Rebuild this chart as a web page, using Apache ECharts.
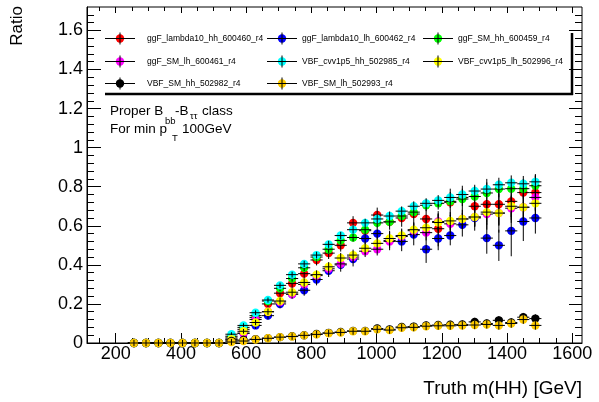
<!DOCTYPE html>
<html>
<head>
<meta charset="utf-8">
<script src="https://cdn.jsdelivr.net/npm/echarts@6/dist/echarts.min.js"></script>
<style>
html,body{margin:0;padding:0;background:#fff;}
#c{width:599px;height:402px;}
</style>
</head>
<body>
<div id="c"></div>
<script>
// ---------- data ----------
const xCenters = [256, 293, 331, 368, 405, 443, 480, 517, 555, 592, 629, 667, 704, 741, 778, 816, 853, 890, 928, 965, 1002, 1040, 1077, 1114, 1152, 1189, 1226, 1263, 1301, 1338, 1375, 1413, 1450, 1487];
const binHalfWidth = 18.6;

const seriesNames = ['ggF_lambda10_hh_600460_r4', 'ggF_lambda10_lh_600462_r4', 'ggF_SM_hh_600459_r4',
  'ggF_SM_lh_600461_r4', 'VBF_cvv1p5_hh_502985_r4', 'VBF_cvv1p5_lh_502996_r4',
  'VBF_SM_hh_502982_r4', 'VBF_SM_lh_502993_r4'];

const ggF_lambda10_hh = [0,0,0,0,0,0,0,0, 0.03,0.07,0.13,0.20,0.255,0.305,0.355,0.425,0.46,0.50,0.615,0.575,0.655,0.62,0.64,0.66,0.635,0.585,0.72,0.745,0.70,0.71,0.71,0.725,0.77,0.77];
const ggF_lambda10_lh = [0,0,0,0,0,0,0,0, 0.02,0.05,0.09,0.14,0.20,0.25,0.27,0.325,0.37,0.40,0.43,0.535,0.56,0.525,0.52,0.555,0.48,0.535,0.55,0.605,0.64,0.537,0.50,0.574,0.622,0.64];
const ggF_SM_hh = [0,0,0,0,0,0,0,0, 0.035,0.08,0.14,0.215,0.28,0.33,0.385,0.44,0.48,0.525,0.54,0.58,0.615,0.62,0.65,0.67,0.705,0.715,0.725,0.737,0.75,0.768,0.788,0.79,0.79,0.805];
const ggF_SM_lh = [0,0,0,0,0,0,0,0, 0.015,0.05,0.12,0.16,0.21,0.25,0.30,0.345,0.38,0.405,0.44,0.47,0.48,0.52,0.545,0.575,0.565,0.622,0.61,0.635,0.645,0.66,0.665,0.69,0.695,0.745];
const VBF_cvv1p5_hh = [0,0,0,0,0,0,0,0, 0.045,0.09,0.155,0.22,0.295,0.35,0.405,0.45,0.505,0.55,0.58,0.615,0.635,0.65,0.675,0.70,0.715,0.73,0.745,0.76,0.778,0.788,0.81,0.82,0.815,0.825];
const VBF_cvv1p5_lh = [0,0,0,0,0,0,0,0, 0.02,0.06,0.105,0.16,0.215,0.26,0.31,0.35,0.39,0.435,0.45,0.485,0.51,0.535,0.55,0.58,0.59,0.617,0.625,0.635,0.645,0.67,0.665,0.70,0.695,0.715];
const VBF_SM_hh = [0,0,0,0,0,0,0,0, 0.01,0.015,0.02,0.025,0.03,0.035,0.04,0.046,0.052,0.056,0.062,0.062,0.074,0.07,0.082,0.084,0.09,0.092,0.094,0.095,0.108,0.10,0.116,0.105,0.132,0.125];
const VBF_SM_lh = [0,0,0,0,0,0,0,0, 0.005,0.01,0.018,0.024,0.03,0.033,0.039,0.044,0.05,0.054,0.06,0.06,0.07,0.066,0.078,0.08,0.086,0.088,0.088,0.09,0.092,0.095,0.09,0.10,0.12,0.09];

const err_ggF_lambda10_hh = [0.016,0.016,0.016,0.016,0.016,0.016,0.016,0.016, 0.012,0.015,0.018,0.02,0.022,0.024,0.026,0.028,0.03,0.032,0.034,0.036,0.038,0.04,0.045,0.05,0.055,0.09,0.07,0.06,0.1,0.13,0.11,0.11,0.065,0.09];
const err_ggF_lambda10_lh = [0.016,0.016,0.016,0.016,0.016,0.016,0.016,0.016, 0.012,0.015,0.018,0.02,0.022,0.025,0.028,0.03,0.032,0.035,0.038,0.04,0.045,0.05,0.05,0.055,0.07,0.06,0.05,0.06,0.065,0.08,0.08,0.13,0.1,0.08];
const err_ggF_SM_hh = [0.016,0.016,0.016,0.016,0.016,0.016,0.016,0.016, 0.01,0.012,0.013,0.014,0.015,0.016,0.017,0.018,0.019,0.02,0.021,0.022,0.023,0.025,0.026,0.028,0.03,0.032,0.034,0.036,0.038,0.04,0.042,0.045,0.05,0.05];
const err_ggF_SM_lh = [0.016,0.016,0.016,0.016,0.016,0.016,0.016,0.016, 0.01,0.012,0.014,0.016,0.018,0.02,0.02,0.022,0.024,0.026,0.028,0.03,0.032,0.034,0.036,0.038,0.04,0.042,0.045,0.05,0.05,0.055,0.06,0.06,0.065,0.07];
const err_VBF_cvv1p5_hh = [0.016,0.016,0.016,0.016,0.016,0.016,0.016,0.016, 0.01,0.011,0.012,0.013,0.014,0.015,0.016,0.017,0.018,0.019,0.02,0.021,0.022,0.023,0.024,0.025,0.026,0.027,0.028,0.03,0.032,0.034,0.036,0.038,0.04,0.04];
const err_VBF_cvv1p5_lh = [0.016,0.016,0.016,0.016,0.016,0.016,0.016,0.016, 0.01,0.012,0.014,0.016,0.018,0.02,0.021,0.022,0.024,0.026,0.028,0.03,0.032,0.034,0.036,0.038,0.04,0.042,0.045,0.048,0.05,0.052,0.1,0.055,0.06,0.06];
const err_VBF_SM_hh = [0.016,0.016,0.016,0.016,0.016,0.016,0.016,0.016, 0.016,0.016,0.016,0.016,0.017,0.017,0.017,0.018,0.018,0.018,0.018,0.019,0.019,0.019,0.019,0.02,0.02,0.02,0.02,0.021,0.021,0.021,0.022,0.022,0.022,0.022];
const err_VBF_SM_lh = [0.016,0.016,0.016,0.016,0.016,0.016,0.016,0.016, 0.016,0.016,0.016,0.016,0.017,0.017,0.017,0.018,0.018,0.018,0.018,0.019,0.019,0.019,0.019,0.02,0.02,0.02,0.02,0.021,0.021,0.021,0.022,0.022,0.022,0.022];

const xMajorTicks = [200, 400, 600, 800, 1000, 1200, 1400, 1600];
const xMinorTicks = [150, 250, 300, 350, 450, 500, 550, 650, 700, 750, 850, 900, 950, 1050, 1100, 1150, 1250, 1300, 1350, 1450, 1500, 1550];
const yMajorTicks = [0, 0.2, 0.4, 0.6, 0.8, 1, 1.2, 1.4, 1.6];
const yMinorTicks = [0.04, 0.08, 0.12, 0.16, 0.24, 0.28, 0.32, 0.36, 0.44, 0.48, 0.52, 0.56, 0.64, 0.68, 0.72, 0.76, 0.84, 0.88, 0.92, 0.96, 1.04, 1.08, 1.12, 1.16, 1.24, 1.28, 1.32, 1.36, 1.44, 1.48, 1.52, 1.56, 1.64, 1.68];

// ---------- style ----------
const colors = ['#ff0000', '#0000ff', '#00ff00', '#ff00ff', '#00ffff', '#ffff00', '#000000', '#ffcc00'];
const values = [ggF_lambda10_hh, ggF_lambda10_lh, ggF_SM_hh, ggF_SM_lh, VBF_cvv1p5_hh, VBF_cvv1p5_lh, VBF_SM_hh, VBF_SM_lh];
const errors = [err_ggF_lambda10_hh, err_ggF_lambda10_lh, err_ggF_SM_hh, err_ggF_SM_lh, err_VBF_cvv1p5_hh, err_VBF_cvv1p5_lh, err_VBF_SM_hh, err_VBF_SM_lh];

const FONT = 'Liberation Sans, Arial, Helvetica, sans-serif';
const X_MIN = 112, X_MAX = 1630, Y_MIN = 0, Y_MAX = 1.72;

function makeAxis(dim, position, ticks, len, main) {
  return {
    type: 'value', min: dim === 'x' ? X_MIN : Y_MIN, max: dim === 'x' ? X_MAX : Y_MAX,
    position: position,
    axisLine: { show: main, onZero: false, lineStyle: { color: '#000', width: 1 } },
    axisTick: { show: true, inside: true, length: len, customValues: ticks, lineStyle: { color: '#000', width: 1 } },
    axisLabel: { show: false },
    splitLine: { show: false },
    silent: true
  };
}

const plainFmt = function (v) { return String(v); };

const xAxes = [
  makeAxis('x', 'bottom', xMajorTicks, 10, true),
  makeAxis('x', 'bottom', xMinorTicks, 5, false),
  makeAxis('x', 'top', xMajorTicks, 6, false),
  makeAxis('x', 'top', xMinorTicks, 4, false)
];
xAxes[0].axisLabel = { show: true, customValues: xMajorTicks, formatter: plainFmt, fontSize: 18, color: '#000', margin: 2, fontFamily: FONT };

const yAxes = [
  makeAxis('y', 'left', yMajorTicks, 14, true),
  makeAxis('y', 'left', yMinorTicks, 7, false),
  makeAxis('y', 'right', yMajorTicks, 13, false),
  makeAxis('y', 'right', yMinorTicks, 7, false)
];
yAxes[0].axisLabel = { show: true, customValues: yMajorTicks, formatter: plainFmt, fontSize: 18, color: '#000', margin: 4, fontFamily: FONT };

const series = values.map(function (vals, si) {
  const data = xCenters.map(function (x, k) { return [x, vals[k], errors[si][k], binHalfWidth]; });
  return {
    type: 'custom', name: seriesNames[si], xAxisIndex: 0, yAxisIndex: 0, z: 10 + si,
    data: data,
    renderItem: function (params, api) {
      const x = api.value(0), y = api.value(1), e = api.value(2), hw = api.value(3);
      const c = api.coord([x, y]);
      const l = api.coord([x - hw, y]);
      const r = api.coord([x + hw, y]);
      const t = api.coord([x, y + e]);
      const b = api.coord([x, y - e]);
      return {
        type: 'group',
        children: [
          { type: 'circle', shape: { cx: c[0], cy: c[1], r: 4.2 }, style: { fill: colors[si] } },
          { type: 'line', shape: { x1: l[0], y1: c[1], x2: r[0], y2: c[1] }, style: { stroke: '#000', lineWidth: 1 } },
          { type: 'line', shape: { x1: c[0], y1: t[1], x2: c[0], y2: b[1] }, style: { stroke: '#000', lineWidth: 1 } }
        ]
      };
    }
  };
});

// legend drawn as graphic (ROOT-style box)
const legMarkerX = [120, 282, 438];
const legTextX = [147, 302, 458];
const legRowY = [38.5, 61.5, 83.5];
const graphics = [];
seriesNames.forEach(function (name, i) {
  const col = i % 3, row = Math.floor(i / 3);
  const mx = legMarkerX[col], my = legRowY[row];
  graphics.push({ type: 'circle', shape: { cx: mx, cy: my, r: 4.2 }, style: { fill: colors[i] }, z: 100 });
  graphics.push({ type: 'line', shape: { x1: mx - 15, y1: my, x2: mx + 15, y2: my }, style: { stroke: '#000', lineWidth: 1 }, z: 101 });
  graphics.push({ type: 'line', shape: { x1: mx, y1: my - 6, x2: mx, y2: my + 6 }, style: { stroke: '#000', lineWidth: 1 }, z: 101 });
  graphics.push({ type: 'text', x: legTextX[col], y: my, style: { text: name, font: '8.5px ' + FONT, fill: '#000', textVerticalAlign: 'middle', textAlign: 'left' }, z: 101 });
});
// legend box shadow lines
graphics.push({ type: 'line', shape: { x1: 105, y1: 94, x2: 573, y2: 94 }, style: { stroke: '#000', lineWidth: 2.5 }, z: 100 });
graphics.push({ type: 'line', shape: { x1: 572, y1: 33, x2: 572, y2: 95 }, style: { stroke: '#000', lineWidth: 2.5 }, z: 100 });

// annotation text
function txt(s, x, y, size) {
  return { type: 'text', x: x, y: y, style: { text: s, font: size + 'px ' + FONT, fill: '#000', textVerticalAlign: 'middle', textAlign: 'left' }, z: 100 };
}
graphics.push(txt('Proper B', 110, 111, 13.5));
graphics.push(txt('bb', 165, 121, 9.5));
graphics.push(txt('-B', 175, 111, 13.5));
graphics.push(txt('ττ', 190, 116, 9.5));
graphics.push(txt('class', 202, 111, 13.5));
graphics.push(txt('For min p', 110, 129, 13.5));
graphics.push(txt('T', 172, 138, 9.5));
graphics.push(txt('100GeV', 182, 129, 13.5));

// axis titles
graphics.push({ type: 'text', x: 582, y: 389, style: { text: 'Truth m(HH) [GeV]', font: '19px ' + FONT, fill: '#000', textAlign: 'right', textVerticalAlign: 'middle' }, z: 100 });
graphics.push({ type: 'text', x: 17, y: 6, rotation: Math.PI / 2, style: { text: 'Ratio', font: '17px ' + FONT, fill: '#000', textAlign: 'right', textVerticalAlign: 'middle' }, z: 100 });

const chart = echarts.init(document.getElementById('c'), null, { renderer: 'canvas' });
chart.setOption({
  animation: false,
  backgroundColor: '#fff',
  grid: { left: 87, top: 7, right: 17, bottom: 59, show: true, borderColor: '#000', borderWidth: 1, backgroundColor: 'transparent' },
  xAxis: xAxes,
  yAxis: yAxes,
  series: series,
  graphic: graphics
});
</script>
</body>
</html>
